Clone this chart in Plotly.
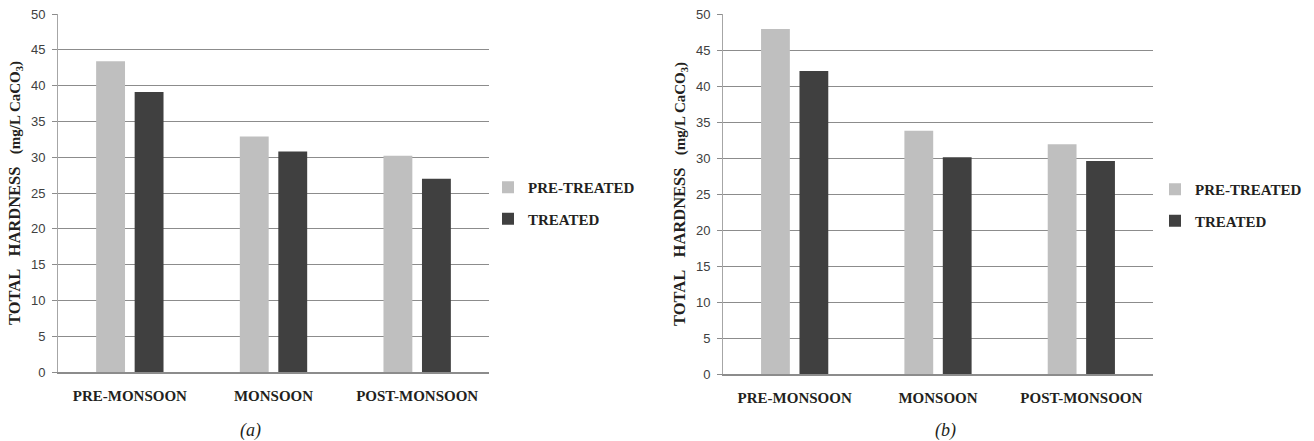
import plotly.graph_objects as go

# Seasons on the category axis
seasons = ["PRE-MONSOON", "MONSOON", "POST-MONSOON"]

# Total hardness (mg/L CaCO3), panel (a)
hardness_a_pre = [43.4, 32.9, 30.2]
hardness_a_treated = [39.1, 30.8, 27.0]

# Total hardness (mg/L CaCO3), panel (b)
hardness_b_pre = [47.9, 33.8, 31.9]
hardness_b_treated = [42.1, 30.1, 29.6]

y_ticks = [0, 5, 10, 15, 20, 25, 30, 35, 40, 45, 50]
panel_captions = ["(a)", "(b)"]
series_names = ["PRE-TREATED", "TREATED"]

W, H = 1314, 441
LIGHT = "#bfbfbf"
DARK = "#404040"
GRID = "#8c8c8c"
SERIF = "Liberation Serif, Times New Roman, serif"
SANS = "Liberation Sans, Arial, sans-serif"
TEXT = "#231f20"

fig = go.Figure()

panels = [
    ("x", "y", "legend", hardness_a_pre, hardness_a_treated),
    ("x2", "y2", "legend2", hardness_b_pre, hardness_b_treated),
]
for xa, ya, lg, pre, trt in panels:
    fig.add_trace(go.Bar(x=seasons, y=pre, name=series_names[0], xaxis=xa, yaxis=ya,
                         marker=dict(color=LIGHT, line=dict(width=0)),
                         legend=lg, legendgroup=lg + "p"))
    fig.add_trace(go.Bar(x=seasons, y=trt, name=series_names[1], xaxis=xa, yaxis=ya,
                         marker=dict(color=DARK, line=dict(width=0)),
                         legend=lg, legendgroup=lg + "t"))

def px_x(v):
    return v / W

def px_y(v):
    return 1 - v / H

y_title = ("<b>TOTAL&nbsp;&nbsp; HARDNESS&nbsp;&nbsp; "
           "<span style='font-size:15px'>(mg/L CaCO<sub>3</sub>)</span></b>")

xaxis_common = dict(
    showgrid=False, showline=True, linecolor=GRID, linewidth=1.5,
    ticks="", tickfont=dict(family=SERIF, size=15, color=TEXT, weight="bold"),
    ticklabelstandoff=9, fixedrange=True, automargin=False,
)
yaxis_common = dict(
    range=[0, 50], tickvals=y_ticks, showgrid=True, gridcolor=GRID, gridwidth=1.4,
    showline=True, linecolor="#a6a6a6", linewidth=1, zeroline=False,
    ticks="outside", ticklen=5, tickcolor=GRID, tickwidth=1.4,
    tickfont=dict(family=SANS, size=13, color="#404040"), ticklabelstandoff=4,
    title=dict(text=y_title, font=dict(family=SERIF, size=16.5, color=TEXT), standoff=6),
    fixedrange=True, automargin=False,
)

legend_common = dict(
    xanchor="left", yanchor="top", bgcolor="rgba(0,0,0,0)",
    font=dict(family=SERIF, size=15, color=TEXT, weight="bold"),
    itemwidth=30, tracegroupgap=9, itemclick=False, itemdoubleclick=False,
)

fig.update_layout(
    width=W, height=H, autosize=False,
    margin=dict(l=0, r=0, t=0, b=0, pad=0),
    paper_bgcolor="white", plot_bgcolor="white",
    barmode="group", bargap=0.464, bargroupgap=0.25,
    xaxis=dict(domain=[px_x(58), px_x(489)], anchor="y", **xaxis_common),
    yaxis=dict(domain=[px_y(372), px_y(14)], anchor="x", **yaxis_common),
    xaxis2=dict(domain=[px_x(723), px_x(1153)], anchor="y2", **xaxis_common),
    yaxis2=dict(domain=[px_y(374), px_y(14)], anchor="x2", **yaxis_common),
    legend=dict(x=px_x(488), y=px_y(171), **legend_common),
    legend2=dict(x=px_x(1155), y=px_y(173), **legend_common),
    showlegend=True,
)

for cap, cx in zip(panel_captions, [250, 945]):
    fig.add_annotation(text="<i>" + cap + "</i>", xref="paper", yref="paper",
                       x=px_x(cx), y=px_y(430), showarrow=False,
                       font=dict(family=SERIF, size=18, color=TEXT),
                       xanchor="center", yanchor="middle")

fig.write_html("out.html")
